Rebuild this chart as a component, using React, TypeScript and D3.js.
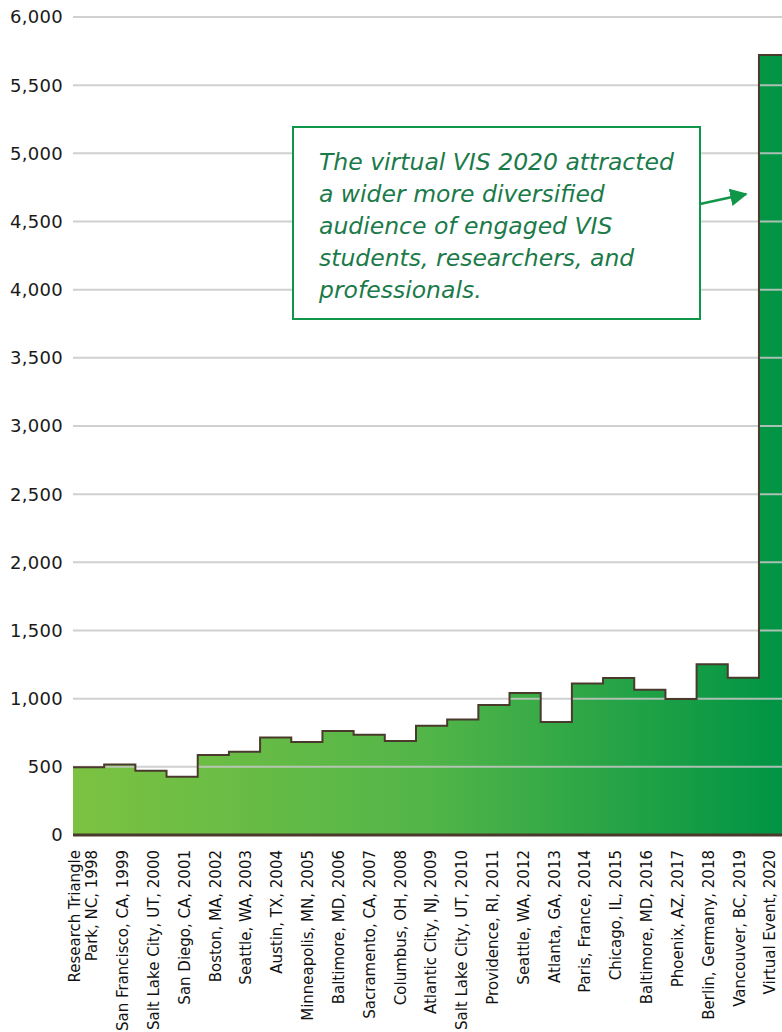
import { useEffect, useRef } from 'react';
import * as d3 from 'd3';

const categories = [
  'Research Triangle\nPark, NC, 1998',
  'San Francisco, CA, 1999',
  'Salt Lake City, UT, 2000',
  'San Diego, CA, 2001',
  'Boston, MA, 2002',
  'Seattle, WA, 2003',
  'Austin, TX, 2004',
  'Minneapolis, MN, 2005',
  'Baltimore, MD, 2006',
  'Sacramento, CA, 2007',
  'Columbus, OH, 2008',
  'Atlantic City, NJ, 2009',
  'Salt Lake City, UT, 2010',
  'Providence, RI, 2011',
  'Seattle, WA, 2012',
  'Atlanta, GA, 2013',
  'Paris, France, 2014',
  'Chicago, IL, 2015',
  'Baltimore, MD, 2016',
  'Phoenix, AZ, 2017',
  'Berlin, Germany, 2018',
  'Vancouver, BC, 2019',
  'Virtual Event, 2020',
];

const attendees = [
  497, 518, 472, 428, 587, 611, 716, 682, 763, 736, 689, 801, 848, 954, 1042,
  829, 1112, 1152, 1066, 998, 1252, 1154, 5721,
];

const yTicks = [0, 500, 1000, 1500, 2000, 2500, 3000, 3500, 4000, 4500, 5000, 5500, 6000];

const noteLines = [
  'The virtual VIS 2020 attracted',
  'a wider more diversified',
  'audience of engaged VIS',
  'students, researchers, and',
  'professionals.',
];

const W = 782;
const H = 1032;
const FONT = '"DejaVu Sans", sans-serif';

const App = () => {
  const svgRef = useRef<SVGSVGElement | null>(null);

  useEffect(() => {
    if (!svgRef.current) return;
    const svg = d3.select(svgRef.current);
    svg.selectAll('*').remove();

    const left = 73;
    const bandW = 31.18;
    const right = left + bandW * categories.length;
    const top = 17;
    const bottom = 835;

    const x = d3.scaleBand<string>().domain(categories).range([left, right]).padding(0);
    // tick labels sit on a slightly tighter spacing than the steps
    const xLab = d3.scalePoint<string>().domain(categories).range([92, 770]);
    const y = d3.scaleLinear().domain([0, 6000]).range([bottom, top]);

    const defs = svg.append('defs');
    const grad = defs.append('linearGradient')
      .attr('id', 'greenGrad')
      .attr('gradientUnits', 'userSpaceOnUse')
      .attr('x1', left).attr('x2', W).attr('y1', 0).attr('y2', 0);
    grad.append('stop').attr('offset', '0%').attr('stop-color', '#7cc242');
    grad.append('stop').attr('offset', '50%').attr('stop-color', '#52b548');
    grad.append('stop').attr('offset', '100%').attr('stop-color', '#009444');

    defs.append('marker')
      .attr('id', 'arrowHead')
      .attr('viewBox', '0 0 10 10')
      .attr('refX', 9).attr('refY', 5)
      .attr('markerWidth', 7).attr('markerHeight', 7)
      .attr('markerUnits', 'strokeWidth')
      .attr('orient', 'auto')
      .append('path')
      .attr('d', 'M0,0 L10,5 L0,10 Z')
      .attr('fill', '#0f9648');

    // step points: each value held across its band
    const pts: [number, number][] = categories.map((c, i) => [x(c) as number, attendees[i]]);
    pts.push([right, attendees[attendees.length - 1]]);

    const area = d3.area<[number, number]>()
      .x(d => d[0])
      .y0(y(0))
      .y1(d => y(d[1]))
      .curve(d3.curveStepAfter);

    const line = d3.line<[number, number]>()
      .x(d => d[0])
      .y(d => y(d[1]))
      .curve(d3.curveStepAfter);

    svg.append('path')
      .datum(pts)
      .attr('d', area)
      .attr('fill', 'url(#greenGrad)');

    // grid
    svg.append('g')
      .selectAll('line')
      .data(yTicks.filter(t => t > 0))
      .enter()
      .append('line')
      .attr('x1', left)
      .attr('x2', W)
      .attr('y1', d => y(d))
      .attr('y2', d => y(d))
      .attr('stroke', '#c8c8c8')
      .attr('stroke-opacity', 0.85)
      .attr('stroke-width', 2);

    svg.append('path')
      .datum(pts)
      .attr('d', line)
      .attr('fill', 'none')
      .attr('stroke', '#4a3a2c')
      .attr('stroke-width', 2);

    // baseline
    svg.append('line')
      .attr('x1', left).attr('x2', W)
      .attr('y1', y(0)).attr('y2', y(0))
      .attr('stroke', '#4a3a2c')
      .attr('stroke-width', 3);

    // y labels
    svg.append('g')
      .selectAll('text')
      .data(yTicks)
      .enter()
      .append('text')
      .attr('x', 63)
      .attr('y', d => y(d))
      .attr('dy', '0.36em')
      .attr('text-anchor', 'end')
      .style('font-family', FONT)
      .style('font-size', '18px')
      .style('letter-spacing', '0.3px')
      .style('fill', '#1a1a1a')
      .text(d => d3.format(',')(d));

    // x labels
    const xl = svg.append('g');
    categories.forEach(c => {
      const cx = xLab(c) as number;
      const lines = c.split('\n');
      lines.forEach((ln, j) => {
        const off = (j - (lines.length - 1)) * 17;
        xl.append('text')
          .attr('transform', `translate(${cx + off},850) rotate(-90)`)
          .attr('text-anchor', 'end')
          .attr('dy', '0.36em')
          .style('font-family', FONT)
          .style('font-size', '15px')
          .style('fill', '#111')
          .text(ln);
      });
    });

    // annotation
    svg.append('rect')
      .attr('x', 293).attr('y', 127)
      .attr('width', 407).attr('height', 192)
      .attr('fill', '#fff')
      .attr('stroke', '#0f9648')
      .attr('stroke-width', 2);

    svg.append('g')
      .selectAll('text')
      .data(noteLines)
      .enter()
      .append('text')
      .attr('x', 319)
      .attr('y', (_, i) => 162 + i * 32)
      .attr('dy', '0.35em')
      .style('font-family', FONT)
      .style('font-style', 'italic')
      .style('font-size', '23.5px')
      .style('fill', '#1b7a49')
      .text(d => d);

    svg.append('line')
      .attr('x1', 700).attr('y1', 204)
      .attr('x2', 746).attr('y2', 194)
      .attr('stroke', '#0f9648')
      .attr('stroke-width', 2.5)
      .attr('marker-end', 'url(#arrowHead)');
  }, []);

  return (
    <svg
      ref={svgRef}
      width={W}
      height={H}
      style={{ position: 'absolute', left: 0, top: 0, display: 'block' }}
    />
  );
};

export default App;
